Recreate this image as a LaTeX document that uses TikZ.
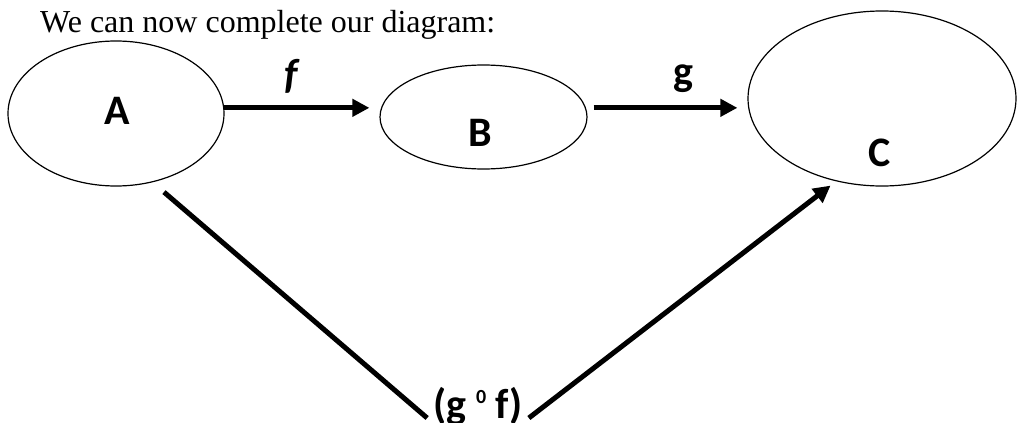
\documentclass[tikz,border=0pt]{standalone}
\usepackage{fontspec}
\setmainfont{Liberation Serif}
\newfontfamily\labfont{Carlito}
\usetikzlibrary{arrows.meta,shapes.geometric}

\begin{document}
\begin{tikzpicture}[x=1pt,y=-1pt,
    set/.style={draw, ellipse, line width=1.2pt, inner sep=0pt},
    lab/.style={font=\labfont\bfseries\fontsize{42}{42}\selectfont, inner sep=0pt},
    map/.style={line width=5pt, -{Triangle[length=17pt,width=17pt]}}]
  \useasboundingbox (0,0) rectangle (1018,423);
  \node[anchor=base west, inner sep=0pt, font=\fontsize{32}{32}\selectfont]
    (title) at (40,32) {We can now complete our diagram:};

  \node[set, minimum width=216pt, minimum height=145pt] (A) at (116,113.5) {};
  \node[set, minimum width=207pt, minimum height=104pt] (B) at (483.5,117) {};
  \node[set, minimum width=268pt, minimum height=175pt] (C) at (882,98.5) {};

  \node[lab] (a) at (117,111) {A};
  \node[lab] (b) at (480,133) {B};
  \node[lab] (c) at (880,152.5) {C};

  \node[lab, anchor=base] (f) at (291,88) {\itshape f};
  \node[lab, anchor=base] (g) at (683,85) {g};
  \node[lab, anchor=base, inner sep=6pt] (gf) at (478,418)
    {(g \raisebox{15pt}{\fontsize{20}{20}\selectfont 0} f)};

  \draw[map, shorten >=10pt] (A.3.5) -- (A.3.5 -| B.west);
  \draw[map, shorten <=6pt, shorten >=10pt] (A.3.5 -| B.east) -- (A.3.5 -| C.west);
  \draw[line width=5pt, shorten <=15pt] (A.-62) -- (gf.base west);
  \draw[map, shorten >=7pt] (gf.base east) -- (C.241.6);
\end{tikzpicture}
\end{document}
